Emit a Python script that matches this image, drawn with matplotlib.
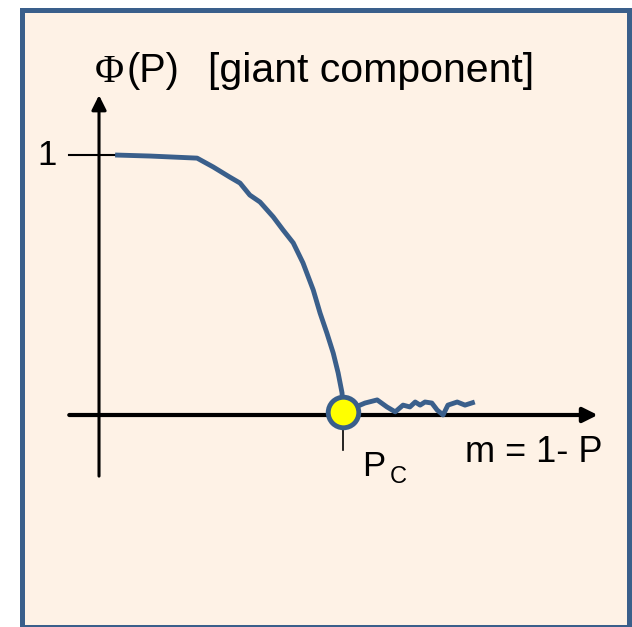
import matplotlib as mpl
mpl.use('Agg')
import matplotlib.pyplot as plt
from matplotlib.patches import Rectangle

# giant component fraction vs. removed fraction m = 1 - P
m_vals = [0.033, 0.105, 0.201, 0.234, 0.268, 0.289, 0.309, 0.330, 0.357,
          0.377, 0.398, 0.418, 0.439, 0.453, 0.467, 0.480, 0.490, 0.498,
          0.500, 0.545, 0.570, 0.590, 0.607, 0.623, 0.637, 0.648, 0.658,
          0.668, 0.682, 0.693, 0.705, 0.715, 0.734, 0.750, 0.770]
phi_vals = [1.000, 0.996, 0.988, 0.954, 0.915, 0.892, 0.846, 0.819, 0.762,
            0.712, 0.662, 0.585, 0.481, 0.392, 0.315, 0.238, 0.162, 0.085,
            0.010, 0.046, 0.058, 0.031, 0.012, 0.038, 0.031, 0.050, 0.038,
            0.050, 0.046, 0.019, 0.000, 0.038, 0.050, 0.038, 0.050]
p_c = 0.5
phi_c = 0.01

blue = '#3A5F8B'
bg = '#FEF2E6'

fig = plt.figure(figsize=(6.32, 6.27), dpi=100)
fig.patch.set_facecolor('white')
fig.patches.append(Rectangle((21.5 / 632, 0.0), 607 / 632, 617.5 / 627,
                             transform=fig.transFigure, facecolor=bg,
                             edgecolor=blue, lw=3.6, zorder=-5))

ax = fig.add_axes([0, 0, 1, 1])
ax.set_zorder(1)
ax.set_xlim(-0.2029, 1.0922)
ax.set_ylim(-0.8154, 1.5962)
ax.axis('off')
ax.patch.set_alpha(0)

# axes with arrow heads
ax.annotate('', xy=(0, 1.23), xytext=(0, -0.235),
            arrowprops=dict(arrowstyle='-|>', lw=2.2, color='black',
                            mutation_scale=22, shrinkA=0, shrinkB=0))
ax.annotate('', xy=(1.022, 0), xytext=(-0.061, 0),
            arrowprops=dict(arrowstyle='-|>', lw=3.0, color='black',
                            mutation_scale=22, shrinkA=0, shrinkB=0))

# tick at 1 and at the threshold
ax.plot([-0.061, 0.059], [1, 1], color='black', lw=1.5, zorder=2)
ax.plot([p_c, p_c], [0, -0.135], color='black', lw=1.2, zorder=2)

ax.plot(m_vals, phi_vals, color=blue, lw=3.5, solid_capstyle='butt',
        solid_joinstyle='round', zorder=3)
ax.plot([p_c], [phi_c], 'o', ms=22, mfc='yellow', mec=blue, mew=3.5, zorder=4)

fs = 25
title_fs = 29.5
ax.text(-0.008, 1.281, 'Φ', family='Liberation Serif', fontsize=28.5,
        va='baseline', ha='left')
ax.text(0.056, 1.281, '(P)', family='Liberation Sans', fontsize=28.5,
        va='baseline', ha='left')
ax.text(0.223, 1.281, '[giant component]', family='Liberation Sans',
        fontsize=title_fs, va='baseline', ha='left')
ax.text(-0.127, 1.0, '1', family='Liberation Sans', fontsize=fs,
        va='center', ha='left')
ax.text(0.539, -0.235, 'P', family='Liberation Sans', fontsize=fs,
        va='baseline', ha='left')
ax.text(0.596, -0.262, 'C', family='Liberation Sans', fontsize=17,
        va='baseline', ha='left')
ax.text(0.750, -0.181, 'm = 1- P', family='Liberation Sans', fontsize=26,
        va='baseline', ha='left')

fig.savefig('out.png', dpi=100)
